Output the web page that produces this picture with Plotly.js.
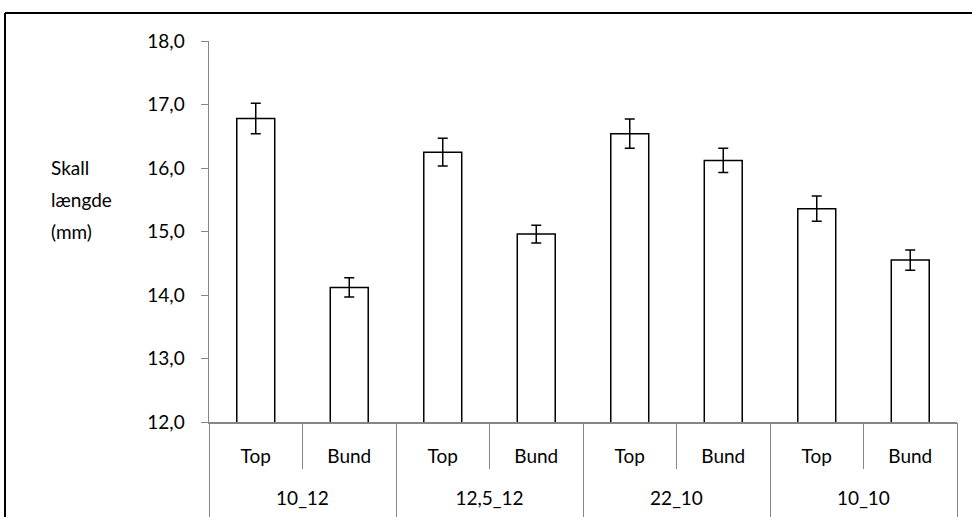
<!DOCTYPE html>
<html>
<head>
<meta charset="utf-8">
<script src="https://cdn.plot.ly/plotly-3.0.1.min.js"></script>
<style>html,body{margin:0;padding:0;background:#fff;}#chart{width:972px;height:517px;}</style>
</head>
<body>
<div id="chart"></div>
<script>
// Data
const groups = ["10_12", "10_12", "12,5_12", "12,5_12", "22_10", "22_10", "10_10", "10_10"];
const positions = ["Top", "Bund", "Top", "Bund", "Top", "Bund", "Top", "Bund"];
const means = [16.78, 14.12, 16.25, 14.96, 16.54, 16.12, 15.36, 14.55];
const errors = [0.24, 0.15, 0.22, 0.14, 0.23, 0.19, 0.20, 0.16];
const titleLines = ["Skall", "længde", "(mm)"];
const yTicks = [12, 13, 14, 15, 16, 17, 18];

// Derived positions on the category axis
const idx = means.map((_, i) => i);
const groupNames = [];
const groupCenters = [];
const groupBounds = [-0.5];
{
  let start = 0;
  for (let i = 1; i <= groups.length; i++) {
    if (i === groups.length || groups[i] !== groups[start]) {
      groupNames.push(groups[start]);
      groupCenters.push((start + i - 1) / 2);
      groupBounds.push(i - 0.5);
      start = i;
    }
  }
}
const catBounds = [-0.5].concat(idx.map(i => i + 0.5));
const xr = [-0.5, groups.length - 0.5];

const W = 972, H = 517;
const M = {l: 209, r: 15, t: 41, b: 95};
const pw = W - M.l - M.r, ph = H - M.t - M.b;
const px = x => (x - M.l) / pw;
const py = y => (H - M.b - y) / ph;

const font = "Lato, 'Open Sans', sans-serif";
const FS = 19;
const gray = "#868686";

const trace = {
  type: "bar",
  x: idx,
  y: means,
  width: 0.406,
  marker: {color: "#ffffff", line: {color: "#000000", width: 1.5}},
  error_y: {type: "data", array: errors, visible: true, color: "#000000", thickness: 1.5, width: 5},
  hoverinfo: "none"
};

const annotations = titleLines.map((t, i) => ({
  text: t, xref: "paper", yref: "paper",
  x: px(49), y: py(167 + i * 32),
  xanchor: "left", yanchor: "middle", showarrow: false,
  font: {family: font, size: FS, color: "#000"}
}));

const baseX = {range: xr, showgrid: false, zeroline: false, fixedrange: true};

const layout = {
  width: W, height: H,
  margin: M,
  paper_bgcolor: "#ffffff", plot_bgcolor: "rgba(0,0,0,0)",
  showlegend: false,
  separators: ", ",
  font: {family: font, size: FS, color: "#000"},
  xaxis: Object.assign({}, baseX, {
    tickvals: idx, ticktext: positions, ticks: "",
    showline: true, linecolor: gray, linewidth: 1.5,
    ticklabelstandoff: 17,
    tickfont: {family: font, size: FS, color: "#000"}
  }),
  xaxis2: Object.assign({}, baseX, {
    overlaying: "x", anchor: "y", side: "bottom",
    tickvals: catBounds, ticks: "outside", ticklen: 46, tickcolor: gray, tickwidth: 1,
    showticklabels: false, showline: false
  }),
  xaxis3: Object.assign({}, baseX, {
    overlaying: "x", anchor: "y", side: "bottom",
    tickvals: groupBounds, ticks: "outside", ticklen: 100, tickcolor: gray, tickwidth: 1,
    showticklabels: false, showline: false
  }),
  xaxis4: Object.assign({}, baseX, {
    overlaying: "x", anchor: "y", side: "bottom",
    tickvals: groupCenters, ticktext: groupNames, ticks: "",
    ticklabelstandoff: 63,
    tickfont: {family: font, size: FS, color: "#000"},
    showline: false
  }),
  yaxis: {
    range: [12, 18],
    tickvals: yTicks,
    tickformat: ".1f",
    showline: true, linecolor: gray, linewidth: 1.5,
    ticks: "outside", ticklen: 7, tickcolor: gray, tickwidth: 1,
    ticklabelstandoff: 12,
    tickfont: {family: font, size: FS, color: "#000"},
    showgrid: false, zeroline: false, fixedrange: true
  },
  annotations: annotations,
  shapes: [
    {type: "line", xref: "paper", yref: "paper", x0: px(5), x1: px(980), y0: py(13), y1: py(13), line: {color: "#000", width: 2}},
    {type: "line", xref: "paper", yref: "paper", x0: px(5), x1: px(5), y0: py(13), y1: py(530), line: {color: "#000", width: 2}}
  ]
};

const empty = ax => ({type: "scatter", x: [], y: [], xaxis: ax, yaxis: "y", hoverinfo: "none", showlegend: false});

Plotly.newPlot("chart", [trace, empty("x2"), empty("x3"), empty("x4")], layout, {staticPlot: true, displayModeBar: false});
</script>
</body>
</html>
